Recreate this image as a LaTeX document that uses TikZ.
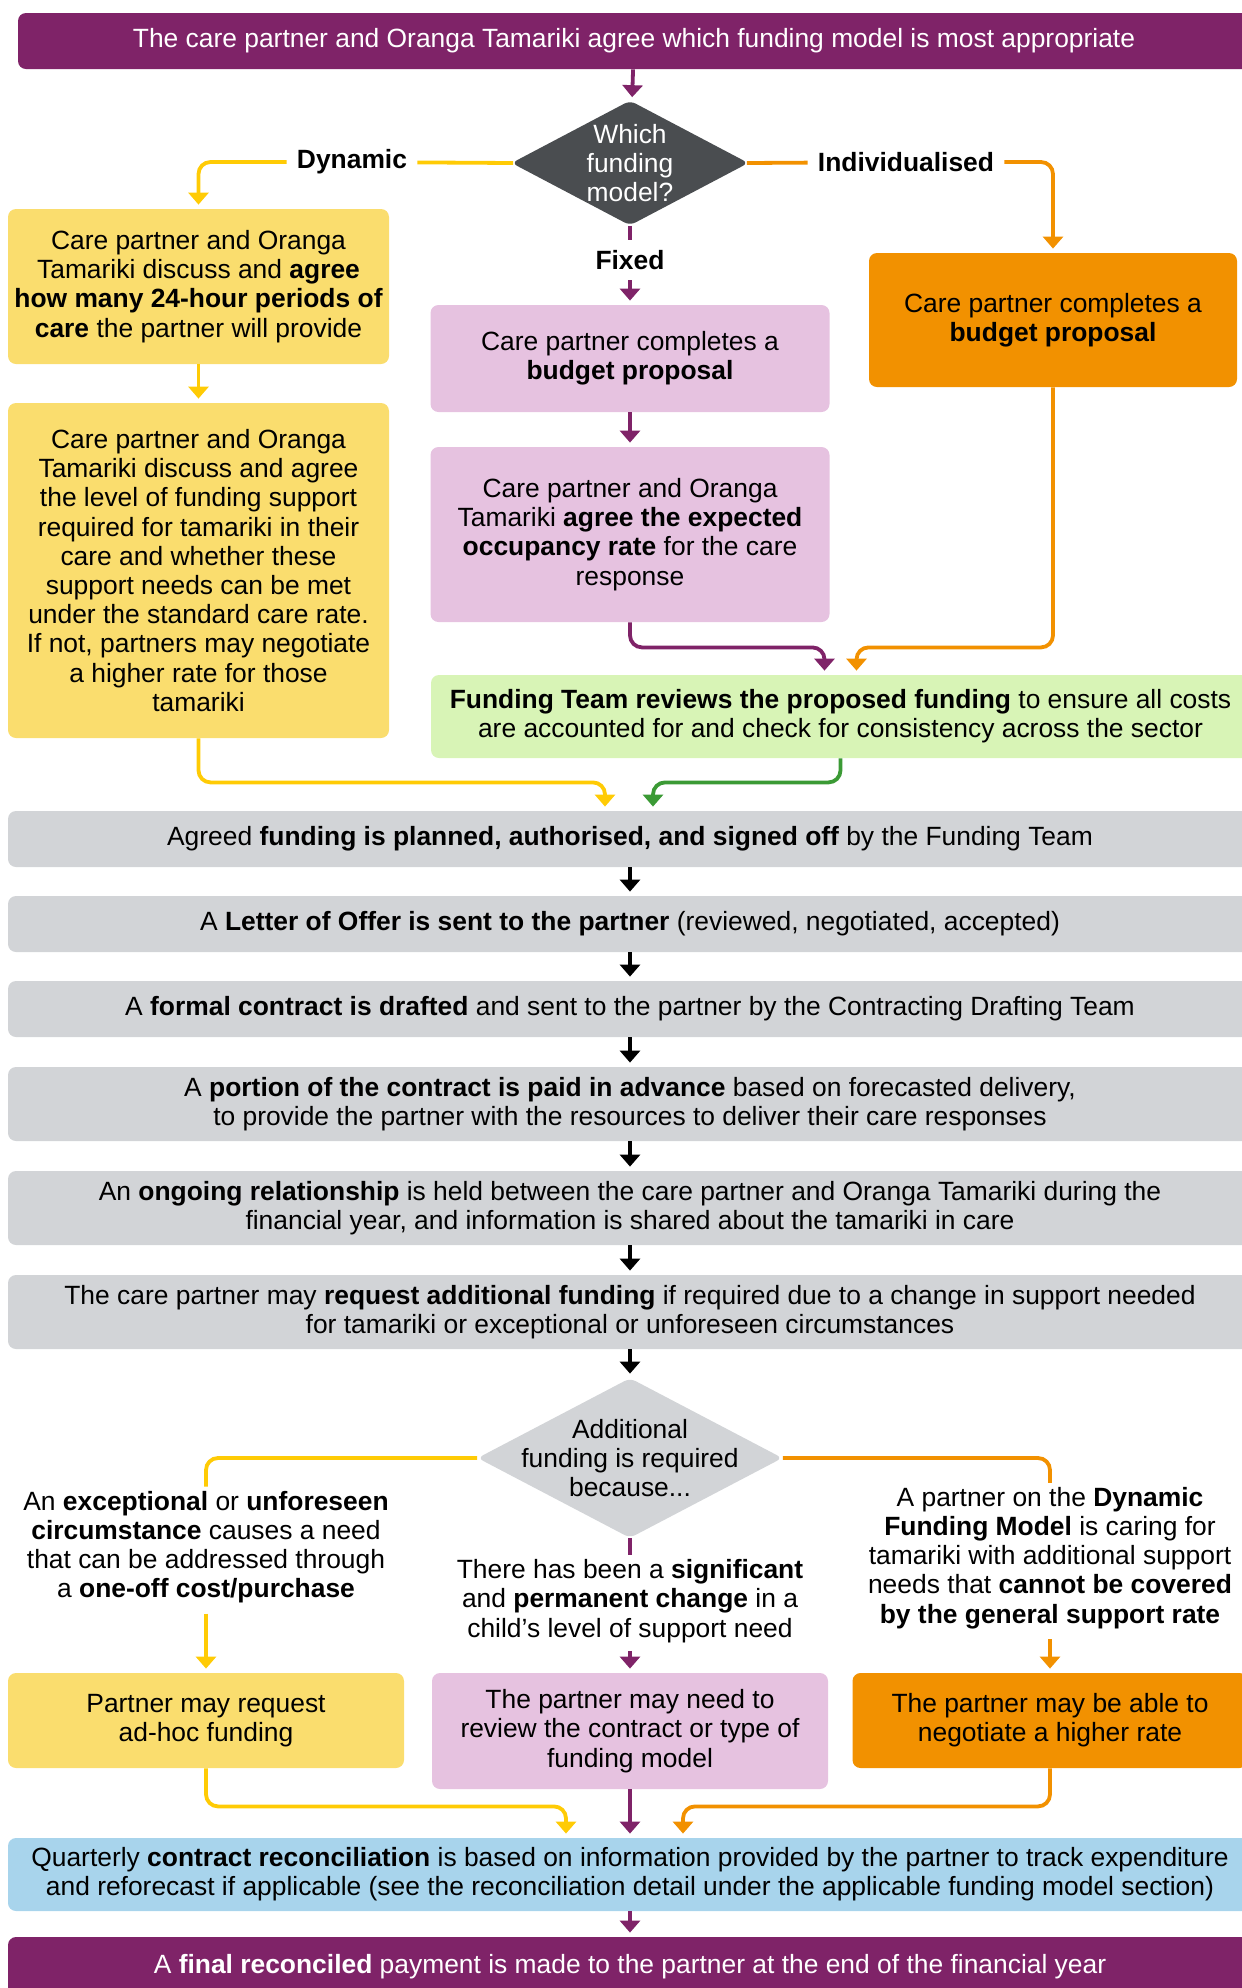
\documentclass[tikz,border=0pt]{standalone}
\usepackage{fontspec}
\setmainfont{Liberation Sans}
\usetikzlibrary{shapes.geometric,arrows.meta}
\definecolor{purp}{HTML}{7F2368}
\definecolor{yline}{HTML}{FFCB05}
\definecolor{yfill}{HTML}{FADD6E}
\definecolor{orng}{HTML}{F29100}
\definecolor{pfill}{HTML}{E6C2E0}
\definecolor{gfill}{HTML}{D8F4B6}
\definecolor{gline}{HTML}{3B9A35}
\definecolor{gbox}{HTML}{D2D4D7}
\definecolor{dgray}{HTML}{4A4D50}
\definecolor{bfill}{HTML}{A8D4EC}
\begin{document}
\begin{tikzpicture}[x=0.5pt,y=-0.5pt,
    every node/.style={font=\fontsize{13.2}{14.6}\selectfont},
    box/.style={rounded corners=4pt,inner sep=0pt,align=center},
    dia/.style={diamond,rounded corners=3pt,inner sep=0pt},
    lab/.style={font=\fontsize{13.2}{14.6}\selectfont\bfseries,inner sep=5pt},
    txt/.style={align=center,inner sep=2pt},
    ln/.style={draw=#1,line width=1.9pt,rounded corners=6pt},
    arr/.style={ln=#1,-{Triangle[width=10pt,length=6pt]},shorten >=2pt}]
    \useasboundingbox (0,0) rectangle (1242,1988);
    \node[box,fill=purp,text=white,minimum width=616pt,minimum height=28pt] (top) at (634,41) {The care partner and Oranga Tamariki agree which funding model is most appropriate};
    \node[dia,fill=dgray,minimum width=118.5pt,minimum height=62.5pt] (q1) at (630,163) {};
    \node[align=center,text=white,inner sep=0pt] (q1t) at (q1) {Which\\funding\\model?};
    \node[lab] (dyn) at (352,162) {Dynamic};
    \node[lab] (ind) at (906,162) {Individualised};
    \node[lab] (fix) at (630,260) {Fixed};
    \node[box,fill=yfill,minimum width=190.5pt,minimum height=77.5pt] (y1) at (198.5,286.5) {Care partner and Oranga\\Tamariki discuss and \textbf{agree}\\\textbf{how many 24-hour periods of}\\\textbf{care} the partner will provide};
    \node[box,fill=yfill,minimum width=190.5pt,minimum height=167.5pt] (y2) at (198.5,570.5) {Care partner and Oranga\\Tamariki discuss and agree\\the level of funding support\\required for tamariki in their\\care and whether these\\support needs can be met\\under the standard care rate.\\If not, partners may negotiate\\a higher rate for those\\tamariki};
    \node[box,fill=pfill,minimum width=199.5pt,minimum height=53.5pt] (p1) at (630,358.5) {Care partner completes a\\\textbf{budget proposal}};
    \node[box,fill=pfill,minimum width=199.5pt,minimum height=87.5pt] (p2) at (630,534.5) {Care partner and Oranga\\Tamariki \textbf{agree the expected}\\\textbf{occupancy rate} for the care\\response};
    \node[box,fill=orng,minimum width=184pt,minimum height=67pt] (o1) at (1053,320) {Care partner completes a\\\textbf{budget proposal}};
    \node[box,fill=gfill,minimum width=409.5pt,minimum height=41.5pt] (fund) at (840.5,716.5) {\textbf{Funding Team reviews the proposed funding} to ensure all costs\\are accounted for and check for consistency across the sector};
    \foreach \n/\y/\h/\t in {
      g1/839/28/{Agreed \textbf{funding is planned, authorised, and signed off} by the Funding Team},
      g2/924/28/{A \textbf{Letter of Offer is sent to the partner} (reviewed, negotiated, accepted)},
      g3/1009/28/{A \textbf{formal contract is drafted} and sent to the partner by the Contracting Drafting Team},
      g4/1104/37/{A \textbf{portion of the contract is paid in advance} based on forecasted delivery,\\to provide the partner with the resources to deliver their care responses},
      g5/1208/37/{An \textbf{ongoing relationship} is held between the care partner and Oranga Tamariki during the\\financial year, and information is shared about the tamariki in care},
      g6/1312/37/{The care partner may \textbf{request additional funding} if required due to a change in support needed\\for tamariki or exceptional or unforeseen circumstances}}
      \node[box,fill=gbox,minimum width=622pt,minimum height=\h pt] (\n) at (630,\y) {\t};
    \node[dia,fill=gbox,minimum width=152.5pt,minimum height=80pt] (q2) at (630,1458) {};
    \node[align=center,inner sep=0pt] (q2t) at (q2) {Additional\\funding is required\\because...};
    \node[txt] (t1) at (206,1547) {An \textbf{exceptional} or \textbf{unforeseen}\\\textbf{circumstance} causes a need\\that can be addressed through\\a \textbf{one-off cost/purchase}};
    \node[txt] (t2) at (630,1601) {There has been a \textbf{significant}\\and \textbf{permanent change} in a\\child’s level of support need};
    \node[txt] (t3) at (1050,1558) {A partner on the \textbf{Dynamic}\\\textbf{Funding Model} is caring for\\tamariki with additional support\\needs that \textbf{cannot be covered}\\\textbf{by the general support rate}};
    \node[box,fill=yfill,minimum width=198pt,minimum height=47.5pt] (y3) at (206,1720.5) {Partner may request\\ad-hoc funding};
    \node[box,fill=pfill,minimum width=198pt,minimum height=58pt] (p3) at (630,1731) {The partner may need to\\review the contract or type of\\funding model};
    \node[box,fill=orng,minimum width=197.5pt,minimum height=47.5pt] (o3) at (1050,1720.5) {The partner may be able to\\negotiate a higher rate};
    \node[box,fill=bfill,minimum width=622pt,minimum height=36.5pt] (blue) at (630,1874.5) {Quarterly \textbf{contract reconciliation} is based on information provided by the partner to track expenditure\\and reforecast if applicable (see the reconciliation detail under the applicable funding model section)};
    \node[box,fill=purp,text=white,minimum width=622pt,minimum height=30pt] (fin) at (630,1967) {A \textbf{final reconciled} payment is made to the partner at the end of the financial year};
    \draw[arr=purp] (top) -- (q1);
    \draw[ln=yline] ([xshift=1pt]q1.west) -- (dyn);
    \draw[arr=yline] (dyn) -| (y1);
    \draw[ln=orng] ([xshift=-1pt]q1.east) -- (ind);
    \draw[arr=orng] (ind) -| (o1);
    \draw[ln=purp] (q1) -- (fix);
    \draw[arr=purp] (fix) -- (p1);
    \draw[arr=yline] (y1) -- (y2);
    \draw[arr=purp] (p1) -- (p2);
    \draw[arr=purp] (p2.south) -- ++(0,25) -| ([xshift=-8pt]fund.north);
    \draw[arr=orng] (o1.south) -- ++(0,260) -| ([xshift=8pt]fund.north);
    \draw[arr=yline] (y2.south) -- ++(0,44) -| ([xshift=-12.5pt]g1.north);
    \draw[arr=gline] (fund.south) -- ++(0,24) -| ([xshift=11.5pt]g1.north);
    \foreach \a/\b in {g1/g2,g2/g3,g3/g4,g4/g5,g5/g6,g6/q2}
      \draw[arr=black] (\a) -- (\b);
    \draw[ln=yline] (q2) -| (t1);
    \draw[arr=yline,shorten <=3pt] (t1) -- (y3);
    \draw[ln=purp] (q2) -- (t2);
    \draw[arr=purp,shorten <=2pt] (t2) -- (p3);
    \draw[ln=orng] (q2) -| (t3);
    \draw[arr=orng,shorten <=3pt] (t3) -- (o3);
    \draw[arr=yline] (y3.south) -- ++(0,38) -| ([xshift=-32pt]blue.north);
    \draw[arr=purp] (p3) -- (blue);
    \draw[arr=orng] (o3.south) -- ++(0,38) -| ([xshift=26.5pt]blue.north);
    \draw[arr=purp] (blue) -- (fin);
\end{tikzpicture}
\end{document}
